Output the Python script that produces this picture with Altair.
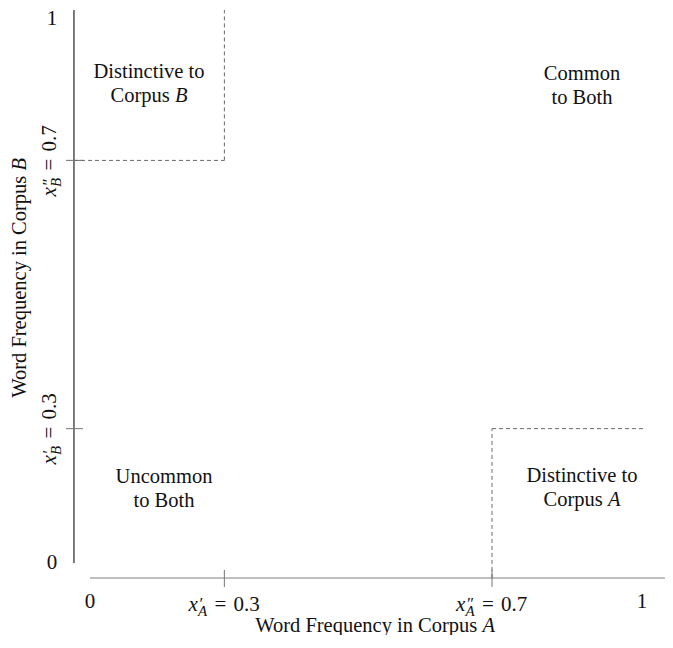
import altair as alt
import pandas as pd

# ---------------- data ----------------
# threshold positions (fraction of each axis) and their printed values
thr_A = [0.243, 0.727]          # x'_A , x''_A on the horizontal axis
thr_B = [0.243, 0.728]          # x'_B , x''_B on the vertical axis
thr_values = ["0.3", "0.7"]
thr_primes = ["\u2032", "\u2033"]

# region labels
region_line1 = ["Distinctive to", "Common", "Uncommon", "Distinctive to"]
region_line2 = ["to Both", "to Both"]
region_line2_x = [0.8897, 0.1338]
region_line2_y = [0.8517, 0.1221]
region_corpus_var = ["B", "A"]
region_corpus_x = [0.1067, 0.8897]
region_corpus_y = [0.8553, 0.1248]
region_x = [0.1067, 0.8897, 0.1338, 0.8897]
region_y = [0.8553, 0.8517, 0.1221, 0.1248]

end_labels = ["0", "1"]
title_text = "Word Frequency in Corpus"
title_vars = ["A", "B"]

# ---------------- layout constants ----------------
FONT = "Liberation Serif"
INK = "#111111"
W, H = 657, 627
PX = 553.0                      # pixels per unit on both axes
xa = -82 / PX
XS = alt.Scale(domain=[xa, xa + W / PX], nice=False, zero=False)
yd = 1 + 2 / PX
YS = alt.Scale(domain=[yd - H / PX, yd], nice=False, zero=False)

AX_X = -0.029                   # where the vertical axis line sits
AX_Y = -0.027                   # where the horizontal axis line sits
X_END = 1.04
T_IN, T_OUT = -0.0127, -0.0434  # tick extents
XLAB_Y = -0.0868                # baseline of x tick labels
YLAB_X = -0.0615                # baseline of y tick labels
XTITLE_Y = -0.1248
YTITLE_X = -0.1157
TITLE_POS = 0.514
TFS = 20.5                      # title font size


def X(f):
    return alt.X(f"{f}:Q", scale=XS, axis=None)


def Y(f):
    return alt.Y(f"{f}:Q", scale=YS, axis=None)


def rules(rows, **kw):
    df = pd.DataFrame(rows, columns=["x1", "y1", "x2", "y2"])
    return alt.Chart(df).mark_rule(**kw).encode(
        x=X("x1"), y=Y("y1"), x2="x2", y2="y2")


def texts(xs, ys, ts, **kw):
    df = pd.DataFrame({"x": xs, "y": ys, "t": ts})
    style = dict(font=FONT, color=INK, fontSize=21)
    style.update(kw)
    return alt.Chart(df).mark_text(**style).encode(
        x=X("x"), y=Y("y"), text="t:N")


layers = []

# axis lines
layers.append(rules([(AX_X, 0, AX_X, 1)], color="#111111", strokeWidth=1.1))
gray = [(0, AX_Y, X_END, AX_Y)]
gray += [(t, T_IN, t, T_OUT) for t in thr_A]
gray += [(T_OUT, t, T_IN, t) for t in thr_B]
layers.append(rules(gray, color="#808080", strokeWidth=1.1))

# dashed region boundaries
dashed = [
    (AX_X, thr_B[1], thr_A[0], thr_B[1]),
    (thr_A[0], thr_B[1], thr_A[0], 1),
    (thr_A[1], AX_Y, thr_A[1], thr_B[0]),
    (thr_A[1], thr_B[0], 1, thr_B[0]),
]
layers.append(rules(dashed, color="#6a6a6a", strokeWidth=1, strokeDash=[4, 3]))

# region labels
layers.append(texts(region_x, region_y, region_line1, fontSize=20.5,
                    align="center", baseline="alphabetic", dy=-12))
layers.append(texts(region_line2_x, region_line2_y, region_line2, fontSize=20.5,
                    align="center", baseline="alphabetic", dy=12))
layers.append(texts(region_corpus_x, region_corpus_y, ["Corpus", "Corpus"],
                    fontSize=20.5, align="right", baseline="alphabetic",
                    dx=20.8, dy=12))
layers.append(texts(region_corpus_x, region_corpus_y, region_corpus_var,
                    fontSize=20.5, fontStyle="italic", align="left",
                    baseline="alphabetic", dx=25.9, dy=12))

# end labels 0 / 1
layers.append(texts([-0.0687, -0.0687], [0, 0.984], end_labels,
                    align="center", baseline="middle"))
layers.append(texts([0, 0.998], [-0.0705, -0.0705], end_labels,
                    align="center", baseline="middle"))


# threshold labels  x'_A = 0.3 etc.
def thr_label(xs, ys, var, angle):
    n = len(xs)
    common = dict(baseline="alphabetic", align="left", angle=angle)
    return [
        texts(xs, ys, ["x"] * n, fontStyle="italic", dx=-36, **common),
        texts(xs, ys, thr_primes, fontSize=17, dx=-25, dy=-2, **common),
        texts(xs, ys, [var] * n, fontStyle="italic", fontSize=15,
              dx=-26.5, dy=5, **common),
        texts(xs, ys, ["="] * n, dx=-10, **common),
        texts(xs, ys, thr_values, dx=9, **common),
    ]


layers += thr_label(thr_A, [XLAB_Y] * 2, "A", 0)
layers += thr_label([YLAB_X] * 2, thr_B, "B", 270)

# axis titles
k = TFS / 21
layers.append(texts([TITLE_POS], [XTITLE_Y], [title_text], align="right",
                    fontSize=TFS, baseline="alphabetic", dx=105.6 * k))
layers.append(texts([TITLE_POS], [XTITLE_Y], [title_vars[0]], align="left",
                    fontSize=TFS, fontStyle="italic", baseline="alphabetic",
                    dx=110.9 * k))
layers.append(texts([YTITLE_X], [TITLE_POS], [title_text], align="right",
                    fontSize=TFS, baseline="alphabetic", angle=270,
                    dx=105.6 * k))
layers.append(texts([YTITLE_X], [TITLE_POS], [title_vars[1]], align="left",
                    fontSize=TFS, fontStyle="italic", baseline="alphabetic",
                    angle=270, dx=110.9 * k))

chart = alt.layer(*layers).properties(
    width=W, height=H, padding=0,
    autosize=alt.AutoSizeParams(type="none"),
).configure_view(stroke=None)

chart.save("out.html", embed_options={"renderer": "svg", "actions": False})
